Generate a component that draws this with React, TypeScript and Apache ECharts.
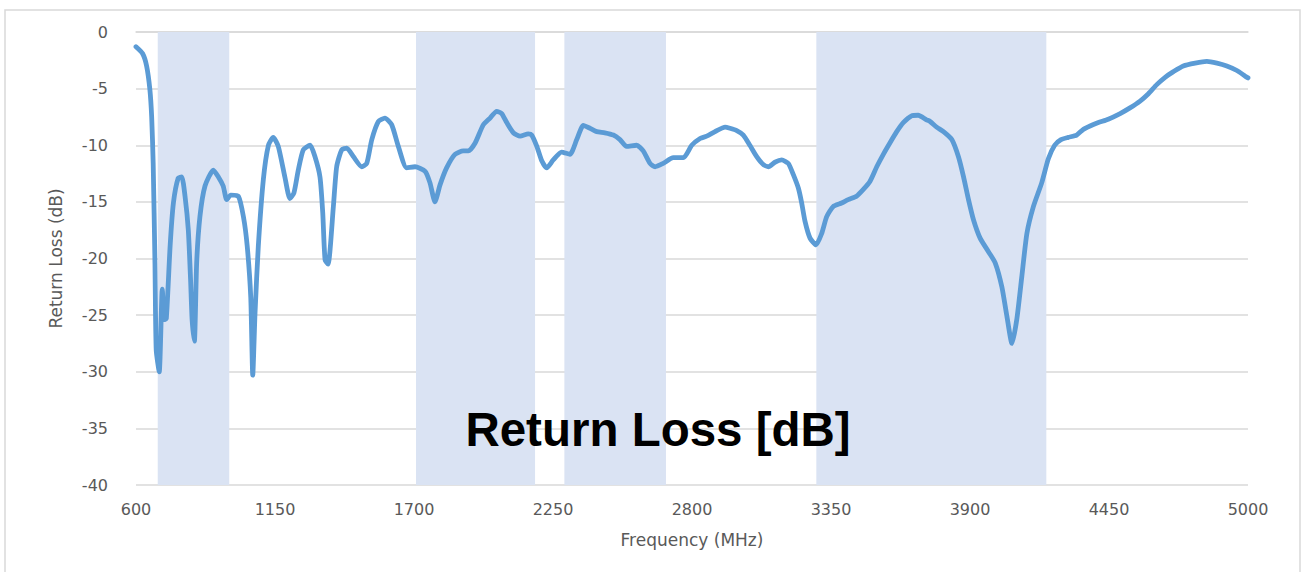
import React, { useEffect, useRef } from "react";
import * as echarts from "echarts";

const freqMHz = [
  600, 626, 642, 655, 662, 668, 675, 680, 692, 704, 712, 720, 735, 748, 767, 781, 794, 807, 816, 822,
  831, 840, 853, 873, 906, 926, 945, 959, 975, 1005, 1025, 1040, 1054, 1062, 1071, 1084, 1104, 1124,
  1143, 1163, 1189, 1209, 1225, 1242, 1262, 1289, 1308, 1328, 1339, 1348, 1360, 1381, 1394, 1414,
  1434, 1460, 1493, 1513, 1533, 1559, 1585, 1612, 1638, 1671, 1704, 1744, 1763, 1783, 1803, 1829,
  1862, 1895, 1915, 1942, 1974, 2001, 2027, 2047, 2067, 2093, 2120, 2152, 2166, 2186, 2206, 2225,
  2251, 2284, 2317, 2344, 2370, 2396, 2423, 2455, 2489, 2515, 2541, 2581, 2607, 2634, 2654, 2686,
  2726, 2766, 2799, 2832, 2858, 2891, 2931, 2950, 2977, 3003, 3029, 3056, 3082, 3102, 3128, 3155,
  3181, 3201, 3221, 3234, 3247, 3267, 3291, 3313, 3333, 3359, 3392, 3418, 3451, 3478, 3504, 3531,
  3557, 3583, 3610, 3636, 3669, 3695, 3728, 3742, 3768, 3795, 3828, 3854, 3874, 3894, 3914, 3940,
  3973, 4000, 4026, 4046, 4066, 4085, 4105, 4125, 4151, 4184, 4210, 4235, 4260, 4289, 4322, 4348,
  4375, 4408, 4447, 4494, 4533, 4573, 4606, 4639, 4672, 4705, 4744, 4791, 4837, 4877, 4916, 4956,
  4989, 5000,
];

const returnLossDb = [
  -1.3, -1.9, -3.0, -5.1, -7.5, -11.6, -20.4, -28.1, -30.0, -22.7, -25.4, -25.3, -18.9, -15.1, -12.9,
  -12.8, -14.5, -17.5, -21.9, -25.4, -27.3, -20.4, -16.3, -13.6, -12.2, -12.8, -13.6, -14.8, -14.4,
  -14.5, -16.3, -18.9, -23.4, -30.3, -24.8, -18.9, -13.0, -10.0, -9.3, -10.1, -12.8, -14.7, -14.2,
  -12.2, -10.4, -10.0, -11.0, -12.8, -16.0, -20.1, -20.5, -15.4, -11.9, -10.4, -10.25, -11.0, -11.9,
  -11.6, -9.5, -7.9, -7.6, -8.2, -10.1, -12.0, -11.9, -12.3, -13.3, -15.0, -13.5, -12.0, -10.8, -10.5,
  -10.5, -9.8, -8.2, -7.6, -7.0, -7.2, -8.0, -8.9, -9.2, -9.0, -9.1, -10.1, -11.4, -12.0, -11.3, -10.6,
  -10.8, -9.5, -8.25, -8.5, -8.8, -8.9, -9.1, -9.5, -10.1, -10.0, -10.5, -11.6, -11.9, -11.6, -11.1,
  -11.1, -10.0, -9.4, -9.2, -8.8, -8.4, -8.5, -8.7, -9.1, -10.0, -11.0, -11.7, -11.9, -11.5, -11.3,
  -11.6, -12.6, -13.8, -15.1, -16.7, -18.2, -18.8, -17.8, -16.3, -15.4, -15.1, -14.8, -14.5, -13.9,
  -13.2, -11.9, -10.8, -9.8, -8.8, -8.0, -7.4, -7.35, -7.75, -7.9, -8.4, -8.8, -9.5, -11.0, -12.75,
  -14.8, -16.6, -18.2, -19.4, -20.4, -22.5, -25.1, -27.5, -25.4, -21.6, -17.8, -15.4, -13.3, -11.2,
  -10.0, -9.5, -9.3, -9.1, -8.6, -8.3, -8.0, -7.7, -7.2, -6.7, -6.1, -5.45, -4.65, -4.0, -3.5, -3.0,
  -2.75, -2.6, -2.75, -3.0, -3.4, -3.9, -4.05,
];

const bandStartMHz = [686, 1708, 2295, 3292];
const bandEndMHz = [969, 2179, 2697, 4202];

const xMin = 600;
const xMax = 5000;
const xStep = 550;
const yMin = -40;
const yMax = 0;
const yStep = 5;

const chartTitle = "Return Loss [dB]";
const xAxisTitle = "Frequency (MHz)";
const yAxisTitle = "Return Loss (dB)";

export default function App() {
  const ref = useRef<HTMLDivElement>(null);

  useEffect(() => {
    if (!ref.current) return;
    const chart = echarts.init(ref.current, undefined, { renderer: "svg" });
    const points = freqMHz.map((f, i) => [f, returnLossDb[i]]);
    const bands = bandStartMHz.map((s, i) => [{ xAxis: s }, { xAxis: bandEndMHz[i] }]);
    const labelColor = "#595959";
    const labelFont = "'DejaVu Sans', 'Open Sans', sans-serif";

    chart.setOption({
      animation: false,
      backgroundColor: "#ffffff",
      grid: { left: 136, right: 56, top: 32, bottom: 87, containLabel: false },
      xAxis: {
        type: "value",
        min: xMin,
        max: xMax,
        interval: xStep,
        name: xAxisTitle,
        nameLocation: "middle",
        nameGap: 46,
        nameTextStyle: { color: labelColor, fontSize: 17, fontFamily: labelFont },
        axisLine: { show: true, lineStyle: { color: "#D9D9D9", width: 1.5 } },
        axisTick: { show: false },
        splitLine: { show: false },
        axisLabel: {
          color: labelColor,
          fontSize: 16,
          fontFamily: labelFont,
          margin: 16,
          formatter: (v: number) => String(v),
        },
      },
      yAxis: {
        type: "value",
        min: yMin,
        max: yMax,
        interval: yStep,
        name: yAxisTitle,
        nameLocation: "middle",
        nameGap: 72,
        nameTextStyle: { color: labelColor, fontSize: 17, fontFamily: labelFont },
        axisLine: { show: false },
        axisTick: { show: false },
        splitLine: { show: true, lineStyle: { color: "#D9D9D9", width: 1.5 } },
        axisLabel: {
          color: labelColor,
          fontSize: 16,
          fontFamily: labelFont,
          margin: 28,
          formatter: (v: number) => String(v),
        },
      },
      series: [
        {
          type: "line",
          data: points,
          showSymbol: false,
          smooth: 0.2,
          lineStyle: { color: "#5B9BD5", width: 4.8, cap: "round", join: "round" },
          z: 3,
          markArea: {
            silent: true,
            itemStyle: { color: "#DAE3F3", opacity: 1 },
            data: bands,
          },
        },
      ],
      graphic: [
        {
          type: "rect",
          shape: { x: 5, y: 10, width: 1295, height: 620 },
          style: { fill: "none", stroke: "#D9D9D9", lineWidth: 1.5 },
          silent: true,
          z: -1,
        },
        {
          type: "text",
          x: 658,
          y: 429,
          style: {
            text: chartTitle,
            fill: "#000000",
            font: "bold 47.5px 'Liberation Sans', Arial, sans-serif",
            textAlign: "center",
            textVerticalAlign: "middle",
          },
          z: 10,
        },
      ],
    });

    return () => chart.dispose();
  }, []);

  return (
    <div
      ref={ref}
      style={{ position: "absolute", left: 0, top: 0, width: 1304, height: 572 }}
    />
  );
}
